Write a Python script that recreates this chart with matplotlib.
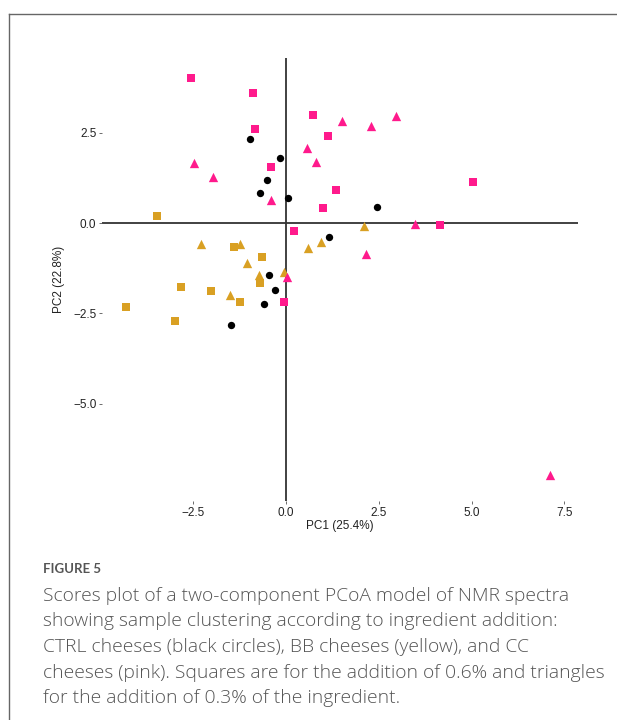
import matplotlib
matplotlib.use("Agg")
import matplotlib.pyplot as plt
from matplotlib.lines import Line2D

# PCoA scores: (PC1, PC2) per sample group
ctrl_x = [-0.97, -0.17, -0.50, -0.70, 0.04, 2.45, 1.16, -0.45, -0.31, -0.59, -1.47]
ctrl_y = [2.32, 1.79, 1.19, 0.84, 0.70, 0.44, -0.38, -1.44, -1.85, -2.24, -2.83]

bb06_x = [-3.49, -1.39, -0.65, -2.83, -2.03, -0.71, -1.25, -4.32, -2.98]
bb06_y = [0.21, -0.65, -0.95, -1.78, -1.89, -1.66, -2.19, -2.31, -2.72]

bb03_x = [-2.29, -1.25, -1.05, -0.73, -1.51, -0.05, 0.58, 0.94, 2.09]
bb03_y = [-0.59, -0.59, -1.11, -1.44, -2.00, -1.36, -0.69, -0.52, -0.07]

cc06_x = [-2.55, -0.89, -0.83, -0.41, 0.72, 1.12, 1.35, 0.99, 5.03, 4.14, 0.21, -0.06]
cc06_y = [4.03, 3.59, 2.60, 1.56, 2.99, 2.40, 0.93, 0.43, 1.13, -0.06, -0.21, -2.18]

cc03_x = [-2.47, -1.96, -0.41, 0.56, 0.81, 1.51, 2.28, 2.96, 3.49, 2.15, 0.03, 7.12]
cc03_y = [1.66, 1.27, 0.64, 2.08, 1.69, 2.84, 2.69, 2.96, -0.02, -0.86, -1.48, -6.97]

x_ticks = [-2.5, 0.0, 2.5, 5.0, 7.5]
y_ticks = [-5.0, -2.5, 0.0, 2.5]
x_label = "PC1 (25.4%)"
y_label = "PC2 (22.8%)"

caption_title = "FIGURE 5"
caption_lines = [
    "Scores plot of a two-component PCoA model of NMR spectra",
    "showing sample clustering according to ingredient addition:",
    "CTRL cheeses (black circles), BB cheeses (yellow), and CC",
    "cheeses (pink). Squares are for the addition of 0.6% and triangles",
    "for the addition of 0.3% of the ingredient.",
]

PINK = "#ff1a8c"
GOLD = "#d9a023"

W, H = 617, 720
fig = plt.figure(figsize=(W / 100, H / 100), dpi=100)

ax = fig.add_axes([102 / W, 1 - 501 / H, (578 - 102) / W, (501 - 58) / H])
ax.set_xlim(-4.96, 7.87)
ax.set_ylim(-7.69, 4.57)
for s in ax.spines.values():
    s.set_visible(False)

ax.axhline(0, color="#333333", lw=1.3, zorder=1)
ax.axvline(0, color="#333333", lw=1.3, zorder=1)

ax.scatter(ctrl_x, ctrl_y, marker="o", s=28, color="black", lw=0, zorder=3)
ax.scatter(bb06_x, bb06_y, marker="s", s=34, color=GOLD, lw=0, zorder=3)
ax.scatter(bb03_x, bb03_y, marker="^", s=45, color=GOLD, lw=0, zorder=3)
ax.scatter(cc06_x, cc06_y, marker="s", s=34, color=PINK, lw=0, zorder=3)
ax.scatter(cc03_x, cc03_y, marker="^", s=45, color=PINK, lw=0, zorder=3)

tick_font = dict(family=["Liberation Sans", "DejaVu Sans"], size=8.5)
ax.set_xticks(x_ticks)
ax.set_yticks(y_ticks)
ax.set_xticklabels([f"{v:.1f}".replace("-", "\u2212") for v in x_ticks], **tick_font, color="#222222")
ax.set_yticklabels([f"{v:.1f}".replace("-", "\u2212") for v in y_ticks], **tick_font, color="#222222")
ax.tick_params(length=2.5, width=0.6, color="#555555", pad=1.5)
ax.set_xlabel(x_label, **tick_font, color="#222222", labelpad=1)
ax.set_ylabel(y_label, **tick_font, color="#222222", labelpad=6)

# page frame
fig.add_artist(Line2D([9 / W, 9 / W], [0, 1 - 14 / H], color="#666666", lw=1.0))
fig.add_artist(Line2D([9 / W, 1], [1 - 14 / H, 1 - 14 / H], color="#666666", lw=1.0))

cap_font = ["Open Sans", "DejaVu Sans"]
fig.text(43 / W, 1 - 569 / H, caption_title, family=["Lato", "DejaVu Sans"], size=9.5,
         weight="bold", color="#555555", va="center")
for i, line in enumerate(caption_lines):
    fig.text(43 / W, 1 - (596 + i * 25.5) / H, line, family=cap_font, size=13.9,
             weight="light", color="#555555", va="center")

fig.savefig("out.png", dpi=100)
